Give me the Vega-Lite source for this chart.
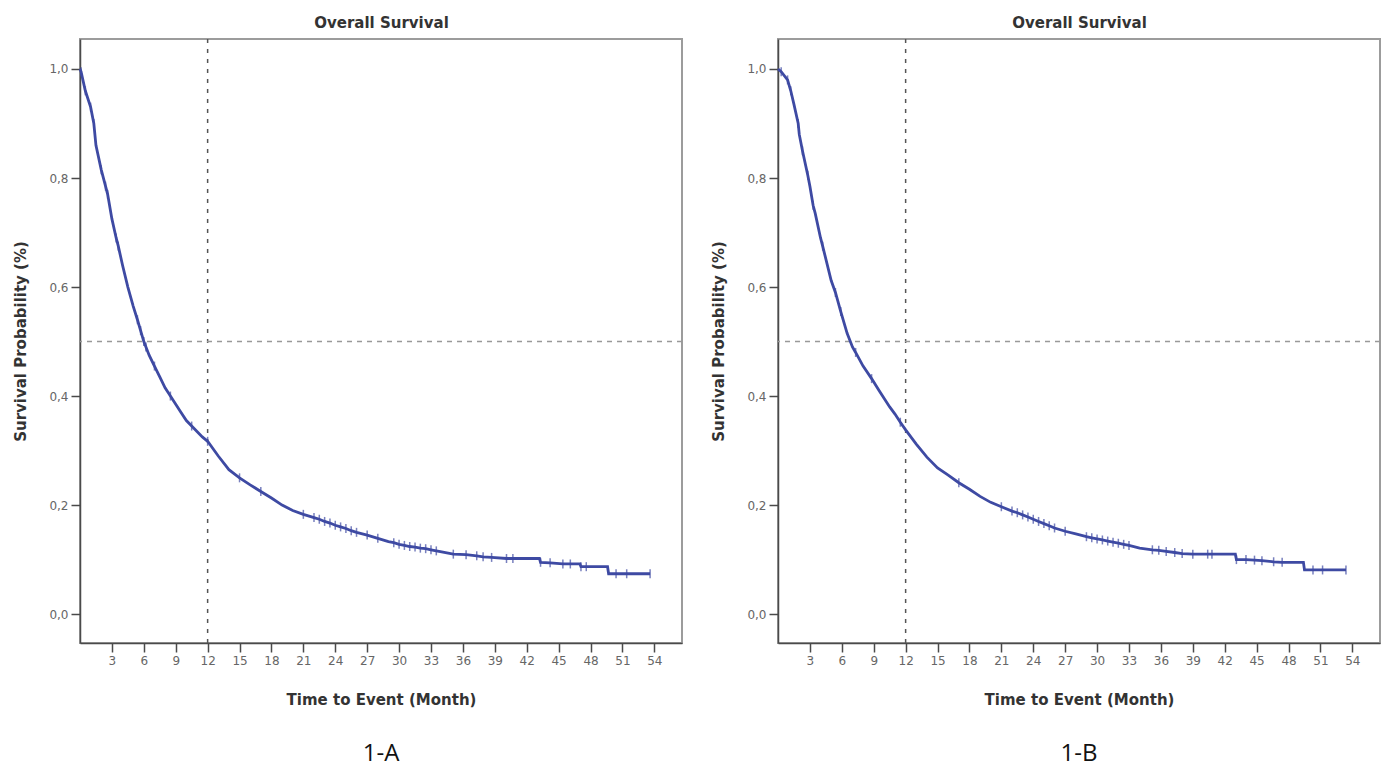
{
  "$schema": "https://vega.github.io/schema/vega-lite/v6.json",
  "background": "white",
  "padding": {"left": 12, "top": 14, "right": 5, "bottom": 5},
  "spacing": 26,
  "config": {
    "font": "DejaVu Sans",
    "view": {"stroke": "#9c9c9c", "strokeWidth": 2},
    "axis": {
      "domainColor": "#4a4a4a",
      "domainWidth": 1.5,
      "tickColor": "#4a4a4a",
      "tickWidth": 1.5,
      "tickSize": 9,
      "labelColor": "#666666",
      "labelFont": "DejaVu Sans",
      "labelFontSize": 12,
      "titleFont": "DejaVu Sans",
      "titleFontSize": 15,
      "titleFontWeight": "bold",
      "titleColor": "#333333",
      "grid": false
    }
  },
  "datasets": {
    "A": [
      {"t": 0, "s": 1.0},
      {"t": 0.1, "s": 0.995, "c": 1},
      {"t": 0.5, "s": 0.96, "c": 1},
      {"t": 1.0, "s": 0.93, "c": 1},
      {"t": 1.3, "s": 0.9, "c": 1},
      {"t": 1.5, "s": 0.86},
      {"t": 2.0, "s": 0.815, "c": 1},
      {"t": 2.4, "s": 0.785, "c": 1},
      {"t": 2.6, "s": 0.77, "c": 1},
      {"t": 3.0, "s": 0.725},
      {"t": 3.4, "s": 0.69, "c": 1},
      {"t": 3.6, "s": 0.675, "c": 1},
      {"t": 4.0, "s": 0.64},
      {"t": 4.5, "s": 0.6},
      {"t": 5.0, "s": 0.565},
      {"t": 5.4, "s": 0.54, "c": 1},
      {"t": 5.7, "s": 0.52, "c": 1},
      {"t": 6.0, "s": 0.5, "c": 1},
      {"t": 6.2, "s": 0.49, "c": 1},
      {"t": 6.5, "s": 0.475},
      {"t": 7.0, "s": 0.455, "c": 1},
      {"t": 7.5, "s": 0.435},
      {"t": 8.0, "s": 0.415},
      {"t": 8.5, "s": 0.4, "c": 1},
      {"t": 9.0, "s": 0.385},
      {"t": 9.5, "s": 0.37},
      {"t": 10.0, "s": 0.355},
      {"t": 10.5, "s": 0.345, "c": 1},
      {"t": 11.0, "s": 0.335},
      {"t": 11.5, "s": 0.325},
      {"t": 12.0, "s": 0.317, "c": 1},
      {"t": 13.0, "s": 0.29},
      {"t": 14.0, "s": 0.265},
      {"t": 15.0, "s": 0.25, "c": 1},
      {"t": 16.0, "s": 0.237},
      {"t": 17.0, "s": 0.225, "c": 1},
      {"t": 18.0, "s": 0.213},
      {"t": 19.0, "s": 0.2},
      {"t": 20.0, "s": 0.19},
      {"t": 21.0, "s": 0.183, "c": 1},
      {"t": 22.0, "s": 0.177, "c": 1},
      {"t": 22.5, "s": 0.174, "c": 1},
      {"t": 23.0, "s": 0.17, "c": 1},
      {"t": 23.5, "s": 0.167, "c": 1},
      {"t": 24.0, "s": 0.163, "c": 1},
      {"t": 24.5, "s": 0.16, "c": 1},
      {"t": 25.0, "s": 0.157, "c": 1},
      {"t": 25.5, "s": 0.153, "c": 1},
      {"t": 26.0, "s": 0.15, "c": 1},
      {"t": 27.0, "s": 0.145, "c": 1},
      {"t": 28.0, "s": 0.139, "c": 1},
      {"t": 29.0, "s": 0.133},
      {"t": 29.5, "s": 0.131, "c": 1},
      {"t": 30.0, "s": 0.128, "c": 1},
      {"t": 30.5, "s": 0.126, "c": 1},
      {"t": 31.0, "s": 0.124, "c": 1},
      {"t": 31.5, "s": 0.123, "c": 1},
      {"t": 32.0, "s": 0.121, "c": 1},
      {"t": 32.5, "s": 0.12, "c": 1},
      {"t": 33.0, "s": 0.118, "c": 1},
      {"t": 33.5, "s": 0.116, "c": 1},
      {"t": 34.0, "s": 0.114},
      {"t": 35.1, "s": 0.11, "c": 1},
      {"t": 36.3, "s": 0.109, "c": 1},
      {"t": 37.3, "s": 0.107, "c": 1},
      {"t": 37.9, "s": 0.105, "c": 1},
      {"t": 38.7, "s": 0.104, "c": 1},
      {"t": 40.1, "s": 0.102, "c": 1},
      {"t": 40.7, "s": 0.102, "c": 1},
      {"t": 43.2, "s": 0.102},
      {"t": 43.3, "s": 0.095, "c": 1},
      {"t": 44.2, "s": 0.094, "c": 1},
      {"t": 45.4, "s": 0.092, "c": 1},
      {"t": 46.1, "s": 0.092, "c": 1},
      {"t": 47.0, "s": 0.092},
      {"t": 47.1, "s": 0.087, "c": 1},
      {"t": 47.6, "s": 0.087, "c": 1},
      {"t": 49.6, "s": 0.087},
      {"t": 49.7, "s": 0.074},
      {"t": 50.4, "s": 0.074, "c": 1},
      {"t": 51.4, "s": 0.074, "c": 1},
      {"t": 53.6, "s": 0.074, "c": 1}
    ],
    "B": [
      {"t": 0, "s": 1.0},
      {"t": 0.3, "s": 0.995, "c": 1},
      {"t": 0.9, "s": 0.98, "c": 1},
      {"t": 1.2, "s": 0.96, "c": 1},
      {"t": 1.5, "s": 0.935},
      {"t": 1.9, "s": 0.9, "c": 1},
      {"t": 2.0, "s": 0.88},
      {"t": 2.3, "s": 0.85, "c": 1},
      {"t": 2.8, "s": 0.805, "c": 1},
      {"t": 3.0, "s": 0.785},
      {"t": 3.3, "s": 0.75, "c": 1},
      {"t": 3.5, "s": 0.735},
      {"t": 4.0, "s": 0.69},
      {"t": 4.2, "s": 0.675, "c": 1},
      {"t": 5.0, "s": 0.612},
      {"t": 5.4, "s": 0.59, "c": 1},
      {"t": 5.9, "s": 0.555, "c": 1},
      {"t": 6.5, "s": 0.515},
      {"t": 7.0, "s": 0.49},
      {"t": 7.3, "s": 0.48, "c": 1},
      {"t": 8.0, "s": 0.455},
      {"t": 8.8, "s": 0.432, "c": 1},
      {"t": 9.5, "s": 0.41},
      {"t": 10.0, "s": 0.395},
      {"t": 10.5, "s": 0.38},
      {"t": 11.0, "s": 0.367},
      {"t": 11.5, "s": 0.352, "c": 1},
      {"t": 12.0, "s": 0.338},
      {"t": 13.0, "s": 0.312},
      {"t": 14.0, "s": 0.288},
      {"t": 15.0, "s": 0.268},
      {"t": 16.0, "s": 0.255},
      {"t": 17.0, "s": 0.241, "c": 1},
      {"t": 18.0, "s": 0.229},
      {"t": 19.0, "s": 0.216},
      {"t": 20.0, "s": 0.205},
      {"t": 21.0, "s": 0.197, "c": 1},
      {"t": 22.0, "s": 0.189, "c": 1},
      {"t": 22.5, "s": 0.186, "c": 1},
      {"t": 23.0, "s": 0.182, "c": 1},
      {"t": 23.5, "s": 0.178, "c": 1},
      {"t": 24.0, "s": 0.174, "c": 1},
      {"t": 24.5, "s": 0.17, "c": 1},
      {"t": 25.0, "s": 0.166, "c": 1},
      {"t": 25.5, "s": 0.162, "c": 1},
      {"t": 26.0, "s": 0.158, "c": 1},
      {"t": 27.0, "s": 0.152, "c": 1},
      {"t": 28.0, "s": 0.147},
      {"t": 29.0, "s": 0.142, "c": 1},
      {"t": 29.5, "s": 0.14, "c": 1},
      {"t": 30.0, "s": 0.138, "c": 1},
      {"t": 30.5, "s": 0.136, "c": 1},
      {"t": 31.0, "s": 0.134, "c": 1},
      {"t": 31.5, "s": 0.132, "c": 1},
      {"t": 32.0, "s": 0.13, "c": 1},
      {"t": 32.5, "s": 0.128, "c": 1},
      {"t": 33.0, "s": 0.126, "c": 1},
      {"t": 34.0, "s": 0.121},
      {"t": 35.2, "s": 0.118, "c": 1},
      {"t": 35.8, "s": 0.117, "c": 1},
      {"t": 36.5, "s": 0.115, "c": 1},
      {"t": 37.3, "s": 0.113, "c": 1},
      {"t": 38.0, "s": 0.111, "c": 1},
      {"t": 39.0, "s": 0.11, "c": 1},
      {"t": 40.4, "s": 0.11, "c": 1},
      {"t": 40.8, "s": 0.11, "c": 1},
      {"t": 43.0, "s": 0.11},
      {"t": 43.1, "s": 0.1, "c": 1},
      {"t": 44.0, "s": 0.1, "c": 1},
      {"t": 44.8, "s": 0.099, "c": 1},
      {"t": 45.5, "s": 0.098, "c": 1},
      {"t": 46.6, "s": 0.096, "c": 1},
      {"t": 47.4, "s": 0.095, "c": 1},
      {"t": 49.4, "s": 0.095},
      {"t": 49.5, "s": 0.081},
      {"t": 50.3, "s": 0.081, "c": 1},
      {"t": 51.2, "s": 0.081, "c": 1},
      {"t": 53.4, "s": 0.081, "c": 1}
    ]
  },
  "hconcat": [
    {
      "width": 602,
      "height": 604,
      "title": {"text": "1-A", "orient": "bottom", "anchor": "middle", "frame": "group", "font": "Open Sans", "fontSize": 24, "fontWeight": "normal", "color": "#111111", "offset": 35},
      "data": {"name": "A"},
      "resolve": {"axis": {"x": "independent"}},
      "layer": [
        {
          "data": {"values": [{}]},
          "mark": {"type": "rule", "strokeDash": [4, 6], "color": "#555555", "strokeWidth": 1.5},
          "encoding": {
            "x": {"datum": 12, "type": "quantitative", "axis": {"orient": "top", "title": "Overall Survival", "domain": false, "ticks": false, "labels": false, "titlePadding": 9}}
          }
        },
        {
          "data": {"values": [{}]},
          "mark": {"type": "rule", "strokeDash": [5, 5], "color": "#999999", "strokeWidth": 1.5},
          "encoding": {
            "y": {"datum": 0.5, "type": "quantitative"}
          }
        },
        {
          "mark": {"type": "line", "interpolate": "linear", "color": "#3e4aa3", "strokeWidth": 2.8},
          "encoding": {
            "x": {"field": "t", "type": "quantitative", "scale": {"domain": [0, 56.6], "nice": false, "zero": false},
                  "axis": {"orient": "bottom", "title": "Time to Event (Month)", "values": [3, 6, 9, 12, 15, 18, 21, 24, 27, 30, 33, 36, 39, 42, 45, 48, 51, 54], "labelPadding": 3, "titlePadding": 26}},
            "y": {"field": "s", "type": "quantitative", "scale": {"domain": [-0.053, 1.055], "nice": false, "zero": false},
                  "axis": {"title": "Survival Probability (%)", "values": [0, 0.2, 0.4, 0.6, 0.8, 1.0], "labelExpr": "replace(format(datum.value, '.1f'), '.', ',')", "labelPadding": 3, "titlePadding": 20}}
          }
        },
        {
          "transform": [{"filter": "datum.c == 1"}],
          "mark": {"type": "tick", "orient": "vertical", "size": 9, "thickness": 1.5, "color": "#3e4aa3"},
          "encoding": {
            "x": {"field": "t", "type": "quantitative", "axis": null},
            "y": {"field": "s", "type": "quantitative"}
          }
        }
      ]
    },
    {
      "width": 602,
      "height": 604,
      "title": {"text": "1-B", "orient": "bottom", "anchor": "middle", "frame": "group", "font": "Open Sans", "fontSize": 24, "fontWeight": "normal", "color": "#111111", "offset": 35},
      "data": {"name": "B"},
      "resolve": {"axis": {"x": "independent"}},
      "layer": [
        {
          "data": {"values": [{}]},
          "mark": {"type": "rule", "strokeDash": [4, 6], "color": "#555555", "strokeWidth": 1.5},
          "encoding": {
            "x": {"datum": 12, "type": "quantitative", "axis": {"orient": "top", "title": "Overall Survival", "domain": false, "ticks": false, "labels": false, "titlePadding": 9}}
          }
        },
        {
          "data": {"values": [{}]},
          "mark": {"type": "rule", "strokeDash": [5, 5], "color": "#999999", "strokeWidth": 1.5},
          "encoding": {
            "y": {"datum": 0.5, "type": "quantitative"}
          }
        },
        {
          "mark": {"type": "line", "interpolate": "linear", "color": "#3e4aa3", "strokeWidth": 2.8},
          "encoding": {
            "x": {"field": "t", "type": "quantitative", "scale": {"domain": [0, 56.6], "nice": false, "zero": false},
                  "axis": {"orient": "bottom", "title": "Time to Event (Month)", "values": [3, 6, 9, 12, 15, 18, 21, 24, 27, 30, 33, 36, 39, 42, 45, 48, 51, 54], "labelPadding": 3, "titlePadding": 26}},
            "y": {"field": "s", "type": "quantitative", "scale": {"domain": [-0.053, 1.055], "nice": false, "zero": false},
                  "axis": {"title": "Survival Probability (%)", "values": [0, 0.2, 0.4, 0.6, 0.8, 1.0], "labelExpr": "replace(format(datum.value, '.1f'), '.', ',')", "labelPadding": 3, "titlePadding": 20}}
          }
        },
        {
          "transform": [{"filter": "datum.c == 1"}],
          "mark": {"type": "tick", "orient": "vertical", "size": 9, "thickness": 1.5, "color": "#3e4aa3"},
          "encoding": {
            "x": {"field": "t", "type": "quantitative", "axis": null},
            "y": {"field": "s", "type": "quantitative"}
          }
        }
      ]
    }
  ]
}
